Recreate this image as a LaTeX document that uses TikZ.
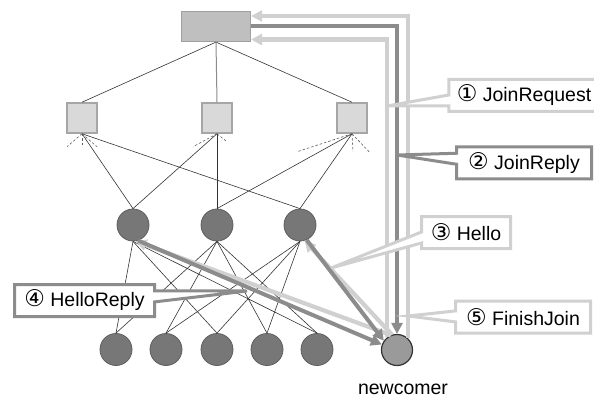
\documentclass[tikz,border=0pt]{standalone}
\usepackage{fontspec}
\setmainfont{Liberation Sans}
\newfontfamily\circfont{DejaVu Sans}
\usetikzlibrary{arrows.meta,positioning,shapes.callouts}
\definecolor{Wire}{HTML}{333333}
\definecolor{Pale}{HTML}{D0D0D0}
\definecolor{Mid}{HTML}{8C8C8C}
\definecolor{RootFill}{HTML}{BFBFBF}
\definecolor{RootDraw}{HTML}{A0A0A0}
\definecolor{HubFill}{HTML}{D9D9D9}
\definecolor{HubDraw}{HTML}{A6A6A6}
\definecolor{PeerFill}{HTML}{777777}
\definecolor{PeerDraw}{HTML}{5E5E5E}
\definecolor{NewFill}{HTML}{9A9A9A}
\newcommand{\msgnum}[1]{{\circfont\fontsize{23pt}{23pt}\selectfont #1}}

\begin{document}
\begin{tikzpicture}[
  x=1pt,y=-1pt,
  font=\fontsize{19.5pt}{23pt}\selectfont,
  rootbox/.style={draw=RootDraw,fill=RootFill,line width=1.2pt,minimum width=69pt,minimum height=30pt,inner sep=0pt},
  hub/.style={draw=HubDraw,fill=HubFill,line width=1.5pt,minimum size=30pt,inner sep=0pt},
  peer/.style={circle,draw=PeerDraw,fill=PeerFill,line width=0.8pt,minimum size=32pt,inner sep=0pt},
  joiner/.style={circle,draw=Wire,fill=NewFill,line width=1.2pt,minimum size=31pt,inner sep=0pt},
  wire/.style={draw=Wire,line width=0.6pt},
  stub/.style={draw=Wire!80,line width=0.6pt,dash pattern=on 2.5pt off 2pt},
  palearrow/.style={draw=Pale,line width=4.2pt,-{Triangle[length=11pt,width=11pt]}},
  midarrow/.style={draw=Mid,line width=4pt,-{Triangle[length=11pt,width=11pt]}},
  msgbox/.style={rectangle callout,draw=#1,line width=3pt,fill=white,minimum height=32pt,
    inner xsep=8pt,callout pointer width=11pt}
]
\useasboundingbox (0,0) rectangle (594,398);

% overlay tree
\node[rootbox] (root) at (216,26.5) {};
\node[hub] (hubl) at (82,118) {};
\node[hub] (hubm) at (217,118) {};
\node[hub] (hubr) at (352,118) {};

\node[peer] (peerl) at (133,225) {};
\node[peer] (peerm) at (217,225) {};
\node[peer] (peerr) at (300,225) {};

\node[peer] (leafa) at (116,349.5) {};
\node[peer] (leafb) at (166,349.5) {};
\node[peer] (leafc) at (217,349.5) {};
\node[peer] (leafd) at (267,349.5) {};
\node[peer] (leafe) at (317,349.5) {};

\node[joiner] (newc) at (397,350) {};
\node[anchor=center,inner sep=0pt] (newlbl) at (403,389) {newcomer};

% tree links
\draw[wire] (root.south) -- (hubl.north);
\draw[wire] (root.south) -- (hubr.north);
\draw[draw=Mid,line width=1pt] (root.south) -- (hubm.north);
\foreach \a/\b in {hubl/peerl,hubl/peerr,hubm/peerl,hubm/peerm,hubr/peerm,hubr/peerr}
  \draw[wire] (\a.south) -- (\b.north);
\foreach \a/\b in {peerl/leafa,peerl/leafc,peerl/leafe,peerm/leafa,peerm/leafb,
                   peerm/leafd,peerm/leafe,peerr/leafb,peerr/leafc,peerr/leafd}
  \draw[wire] (\a.south) -- (\b.north);

% links to the rest of the overlay
\foreach \dx/\dy in {-15/13,0/13,15/13}
  \draw[stub] (hubl.south) -- ++(\dx,\dy);
\foreach \dx/\dy in {-24/13,10/8}
  \draw[stub] (hubm.south) -- ++(\dx,\dy);
\foreach \dx/\dy in {-55/18,1/18,18/19}
  \draw[stub] (hubr.south) -- ++(\dx,\dy);

% join messages
\draw[palearrow] (newc.47) |- ([yshift=10.5pt]root.east);
\draw[palearrow] (newc.129) |- ([yshift=-13pt]root.east);
\draw[midarrow] (root.east) -| (newc.north);
\draw[palearrow] (newc.108) -- (peerr.-74);
\draw[palearrow] (newc.112) -- (peerl.-81);
\draw[midarrow] (peerl.-72) -- (newc.160);
\draw[midarrow] (peerr.-66) -- (newc.145);

% message tags
\coordinate (reqtip) at (387,106);
\coordinate (reptip) at (397,155);
\coordinate (hellotip) at (331,268);
\coordinate (fintip) at (408,316);
\coordinate (hreptip) at (247,291);

\node[msgbox=Pale,minimum width=147pt,callout absolute pointer=(reqtip)] (reqtag) at (524,95.5)
  {\msgnum{①} JoinRequest};
\node[msgbox=Mid,minimum width=135pt,callout absolute pointer=(reptip)] (reptag) at (524,163)
  {\msgnum{②} JoinReply};
\node[msgbox=Pale,minimum width=89pt,callout absolute pointer=(hellotip)] (hellotag) at (466,232.5)
  {\msgnum{③} Hello};
\node[msgbox=Mid,minimum width=140pt,callout absolute pointer=(hreptip)] (hreptag) at (84.5,300.5)
  {\msgnum{④} HelloReply};
\node[msgbox=Pale,minimum width=135pt,callout absolute pointer=(fintip)] (fintag) at (523,317)
  {\msgnum{⑤} FinishJoin};
\end{tikzpicture}
\end{document}
